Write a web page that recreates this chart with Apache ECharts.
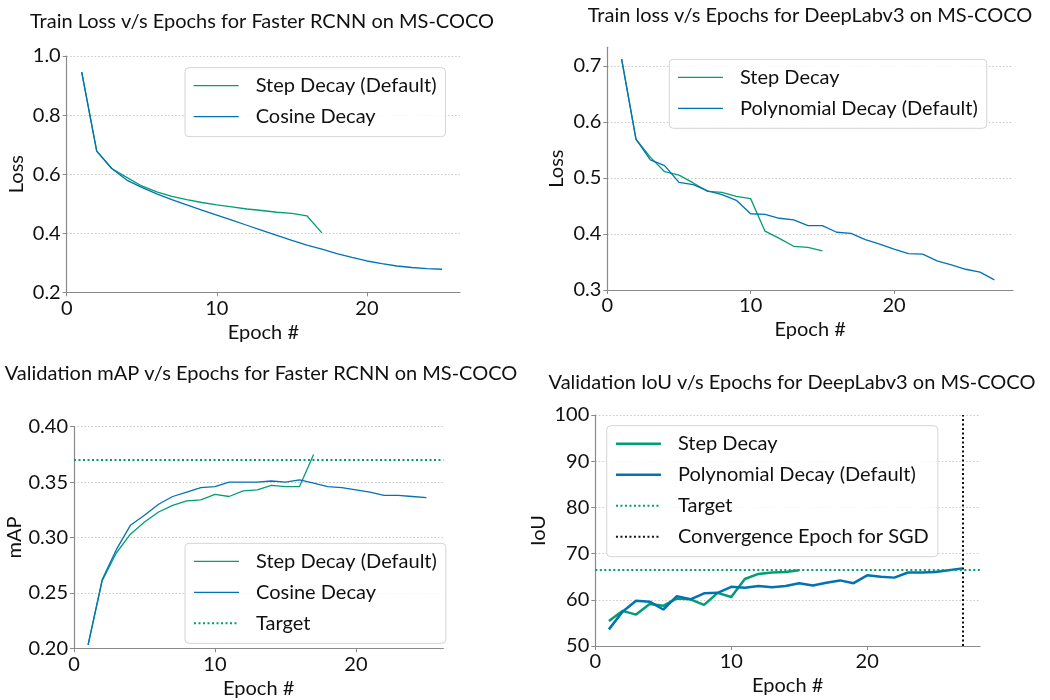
<!DOCTYPE html>
<html>
<head>
<meta charset="utf-8">
<script src="https://cdn.jsdelivr.net/npm/echarts@6/dist/echarts.min.js"></script>
<style>
html,body{margin:0;padding:0;background:#fff;}
#chart{width:1050px;height:700px;}
</style>
</head>
<body>
<div id="chart"></div>
<script>
// ---- Data ----
const titles = [
  'Train Loss v/s Epochs for Faster RCNN on MS-COCO',
  'Train loss v/s Epochs for DeepLabv3 on MS-COCO',
  'Validation mAP v/s Epochs for Faster RCNN on MS-COCO',
  'Validation IoU v/s Epochs for DeepLabv3 on MS-COCO'
];
const xAxisName = 'Epoch #';
const yAxisNames = ['Loss', 'Loss', 'mAP', 'IoU'];
const xTickValues = [0, 10, 20];

// Panel 1: Faster RCNN train loss
const frcnnLossStep = [0.945, 0.678, 0.619, 0.589, 0.560, 0.540, 0.525, 0.514, 0.504, 0.496, 0.489, 0.482, 0.477, 0.471, 0.467, 0.459, 0.401];
const frcnnLossCosine = [0.945, 0.678, 0.619, 0.580, 0.555, 0.533, 0.514, 0.496, 0.478, 0.461, 0.444, 0.427, 0.410, 0.393, 0.376, 0.360, 0.346, 0.331, 0.318, 0.306, 0.297, 0.289, 0.284, 0.280, 0.278];

// Panel 2: DeepLabv3 train loss
const dlLossStep = [0.712, 0.569, 0.537, 0.511, 0.505, 0.491, 0.476, 0.474, 0.467, 0.463, 0.405, 0.392, 0.378, 0.376, 0.370];
const dlLossPoly = [0.712, 0.569, 0.532, 0.522, 0.492, 0.488, 0.477, 0.470, 0.460, 0.436, 0.435, 0.428, 0.425, 0.415, 0.415, 0.403, 0.401, 0.390, 0.382, 0.373, 0.365, 0.364, 0.352, 0.345, 0.337, 0.332, 0.318];

// Panel 3: Faster RCNN validation mAP
const frcnnMapStep = [0.203, 0.261, 0.286, 0.303, 0.314, 0.323, 0.329, 0.333, 0.334, 0.339, 0.337, 0.342, 0.343, 0.347, 0.346, 0.346, 0.375];
const frcnnMapCosine = [0.203, 0.262, 0.289, 0.311, 0.320, 0.330, 0.337, 0.341, 0.345, 0.346, 0.350, 0.350, 0.350, 0.351, 0.350, 0.352, 0.349, 0.346, 0.345, 0.343, 0.341, 0.338, 0.338, 0.337, 0.336];
const targetMap = 0.37;

// Panel 4: DeepLabv3 validation IoU
const dlIouStep = [55.4, 57.6, 56.8, 59.1, 58.7, 60.3, 60.1, 58.9, 61.5, 60.6, 64.5, 65.6, 65.9, 66.0, 66.4];
const dlIouPoly = [53.6, 57.4, 59.8, 59.6, 57.9, 60.8, 60.1, 61.4, 61.5, 62.8, 62.6, 63.0, 62.7, 63.0, 63.6, 63.1, 63.7, 64.2, 63.6, 65.3, 65.0, 64.8, 65.9, 65.9, 66.0, 66.4, 66.8];
const targetIou = 66.4;
const sgdConvergenceEpoch = 27;

// ---- Style ----
const FONT = 'Lato';
const GREEN = '#029e73';
const BLUE = '#0173b2';
const AXIS_GREY = '#8a8a8a';
const TXT = '#111';

function pairs(arr) { return arr.map((v, i) => [i + 1, v]); }

const grids = [
  {left: 66.7, top: 56, width: 393.3, height: 236.3},
  {left: 607.3, top: 47.3, width: 405.7, height: 242.7},
  {left: 74, top: 426.7, width: 369.3, height: 221.6},
  {left: 595.3, top: 415, width: 384.7, height: 231}
];
const xMax = [26.2, 28.3, 26.2, 28.3];
const yCfg = [
  {min: 0.2, max: 1.0, interval: 0.2, dec: 1, gap: 40},
  {min: 0.3, max: 0.733, interval: 0.1, dec: 1, gap: 41},
  {min: 0.2, max: 0.4, interval: 0.05, dec: 2, gap: 46},
  {min: 50, max: 100, interval: 10, dec: 0, gap: 47}
];

const xAxes = grids.map((g, i) => ({
  type: 'value', gridIndex: i, min: 0, max: xMax[i], interval: 10,
  name: xAxisName, nameLocation: 'middle', nameGap: 30,
  nameTextStyle: {fontFamily: FONT, fontSize: 20, color: TXT},
  axisLine: {show: true, lineStyle: {color: AXIS_GREY, width: 1.2}},
  axisTick: {show: true, length: 4, lineStyle: {color: AXIS_GREY}},
  axisLabel: {fontFamily: FONT, fontSize: 20, color: TXT, margin: 6, showMaxLabel: false,
    formatter: v => xTickValues.includes(v) ? String(v) : ''},
  splitLine: {show: false}
}));

const yAxes = grids.map((g, i) => ({
  type: 'value', gridIndex: i, min: yCfg[i].min, max: yCfg[i].max, interval: yCfg[i].interval,
  name: yAxisNames[i], nameLocation: 'middle', nameGap: yCfg[i].gap,
  nameTextStyle: {fontFamily: FONT, fontSize: 20, color: TXT},
  axisLine: {show: true, lineStyle: {color: AXIS_GREY, width: 1.2}},
  axisTick: {show: true, length: 4, lineStyle: {color: AXIS_GREY}},
  axisLabel: {fontFamily: FONT, fontSize: 20, color: TXT, margin: 6, showMaxLabel: i !== 1,
    formatter: v => v.toFixed(yCfg[i].dec)},
  splitLine: {show: true, showMinLine: false, showMaxLine: i !== 1,
    lineStyle: {color: '#c8c8c8', type: [1.5, 2], width: 1}}
}));

function lineSeries(name, data, color, idx, width) {
  return {
    type: 'line', name: name, xAxisIndex: idx, yAxisIndex: idx,
    data: pairs(data), symbol: 'none', showSymbol: false, silent: true,
    lineStyle: {color: color, width: width}, itemStyle: {color: color},
    animation: false
  };
}
function hRefSeries(name, value, color, idx) {
  return {
    type: 'line', name: name, xAxisIndex: idx, yAxisIndex: idx, data: [],
    symbol: 'none', silent: true, animation: false,
    lineStyle: {color: color, width: 2, type: [2, 2.5]}, itemStyle: {color: color},
    markLine: {symbol: 'none', silent: true, label: {show: false}, animation: false,
      lineStyle: {color: color, width: 2, type: [2, 2.5]}, data: [{yAxis: value}]}
  };
}
function vRefSeries(name, value, color, idx) {
  return {
    type: 'line', name: name, xAxisIndex: idx, yAxisIndex: idx, data: [],
    symbol: 'none', silent: true, animation: false,
    lineStyle: {color: color, width: 2, type: [2, 2.5]}, itemStyle: {color: color},
    markLine: {symbol: 'none', silent: true, label: {show: false}, animation: false,
      lineStyle: {color: color, width: 2, type: [2, 2.5]}, data: [{xAxis: value}]}
  };
}

const series = [
  lineSeries('Step Decay (Default)', frcnnLossStep, GREEN, 0, 1.3),
  lineSeries('Cosine Decay', frcnnLossCosine, BLUE, 0, 1.3),
  lineSeries('Step Decay', dlLossStep, GREEN, 1, 1.3),
  lineSeries('Polynomial Decay (Default)', dlLossPoly, BLUE, 1, 1.3),
  lineSeries('Step Decay (Default)', frcnnMapStep, GREEN, 2, 1.3),
  lineSeries('Cosine Decay', frcnnMapCosine, BLUE, 2, 1.3),
  hRefSeries('Target', targetMap, GREEN, 2),
  lineSeries('Step Decay', dlIouStep, GREEN, 3, 2.5),
  lineSeries('Polynomial Decay (Default)', dlIouPoly, BLUE, 3, 2.5),
  hRefSeries('Target', targetIou, GREEN, 3),
  vRefSeries('Convergence Epoch for SGD', sgdConvergenceEpoch, '#111', 3)
];

const HIDE_SYMBOL = {opacity: 0};
function legend(left, top, items) {
  return {
    orient: 'vertical', align: 'left', left: left, top: top,
    padding: [6, 9, 8, 8], itemGap: 7, itemWidth: 45, itemHeight: 14,
    backgroundColor: 'rgba(255,255,255,0.85)', borderColor: '#d4d4d4', borderWidth: 1, borderRadius: 4,
    textStyle: {fontFamily: FONT, fontSize: 20, color: TXT, lineHeight: 24, padding: [0, 0, 0, 12]},
    itemStyle: HIDE_SYMBOL,
    selectedMode: false,
    data: items.map(it => Object.assign({itemStyle: HIDE_SYMBOL}, it))
  };
}

const legends = [
  legend(185, 67.7, [
    {name: 'Step Decay (Default)', lineStyle: {width: 1.3}},
    {name: 'Cosine Decay', lineStyle: {width: 1.3}}]),
  legend(669.3, 59.3, [
    {name: 'Step Decay', lineStyle: {width: 1.3}},
    {name: 'Polynomial Decay (Default)', lineStyle: {width: 1.3}}]),
  legend(185, 543.3, [
    {name: 'Step Decay (Default)', lineStyle: {width: 1.3}},
    {name: 'Cosine Decay', lineStyle: {width: 1.3}},
    {name: 'Target', lineStyle: {width: 2, type: [2, 2.5]}}]),
  legend(606.7, 425.7, [
    {name: 'Step Decay', lineStyle: {width: 2.5}},
    {name: 'Polynomial Decay (Default)', lineStyle: {width: 2.5}},
    {name: 'Target', lineStyle: {width: 2, type: [2, 2.5]}},
    {name: 'Convergence Epoch for SGD', lineStyle: {width: 2, type: [2, 2.5], color: '#111'}}])
];

const titleCenters = [[257, 19], [805, 13], [256, 371], [787, 380]];
const titleOpts = titles.map((t, i) => ({
  text: t, left: titleCenters[i][0], top: titleCenters[i][1] - 12, textAlign: 'center',
  textStyle: {fontFamily: FONT, fontSize: 20, fontWeight: 'normal', color: TXT}
}));

const chart = echarts.init(document.getElementById('chart'), null, {renderer: 'canvas'});
chart.setOption({
  backgroundColor: '#fff',
  animation: false,
  title: titleOpts,
  grid: grids.map(g => Object.assign({containLabel: false}, g)),
  xAxis: xAxes,
  yAxis: yAxes,
  legend: legends,
  series: series
});
</script>
</body>
</html>
